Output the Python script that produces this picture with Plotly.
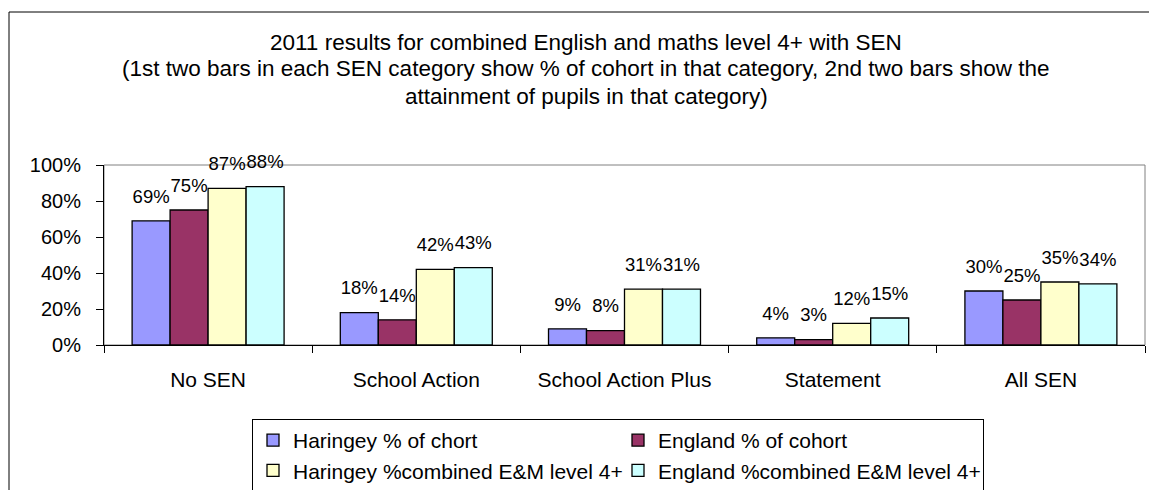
import plotly.graph_objects as go

categories = ["No SEN", "School Action", "School Action Plus", "Statement", "All SEN"]
series_names = [
    "Haringey % of chort",
    "England % of cohort",
    "Haringey %combined E&M level 4+",
    "England %combined E&M level 4+",
]
haringey_cohort = [69, 18, 9, 4, 30]
england_cohort = [75, 14, 8, 3, 25]
haringey_attain = [87, 42, 31, 12, 35]
england_attain = [88, 43, 31, 15, 34]
series_values = [haringey_cohort, england_cohort, haringey_attain, england_attain]
colors = ["#9999FF", "#993366", "#FFFFCC", "#CCFFFF"]

title_lines = [
    "2011 results for combined English and maths level 4+ with SEN",
    "(1st two bars in each SEN category show % of cohort in that category, 2nd two bars show the",
    "attainment of pupils in that category)",
]
y_ticks = [0, 20, 40, 60, 80, 100]

FONT = "Liberation Sans, Arial, sans-serif"
W, H = 1149, 490
L, R, T, B = 104, 4, 165, 145
PW = W - L - R
PH = H - T - B


def px_x(x):
    return (x - L) / PW


def px_y(y):
    return (H - B - y) / PH


fig = go.Figure()
for i, (name, vals, col) in enumerate(zip(series_names, series_values, colors)):
    fig.add_trace(go.Bar(
        x=categories, y=vals, name=name,
        marker=dict(color=col, line=dict(color="black", width=1.3)),
        offsetgroup=str(i), hoverinfo="skip",
    ))
for i, vals in enumerate(series_values):
    fig.add_trace(go.Scatter(
        x=categories, y=vals, mode="markers+text",
        text=[f"{v}%" for v in vals], textposition="top center",
        textfont=dict(family=FONT, size=18.5, color="black"),
        marker=dict(size=20, opacity=0),
        offsetgroup=str(i), showlegend=False, hoverinfo="skip",
        cliponaxis=False,
    ))

annotations = []
for ycen, line in zip([42, 69, 96], title_lines):
    annotations.append(dict(
        text=line, xref="paper", yref="paper", x=px_x(586), y=px_y(ycen),
        xanchor="center", yanchor="middle", showarrow=False,
        font=dict(family=FONT, size=22.5, color="black"),
    ))

shapes = [
    # outer chart border
    dict(type="rect", xref="paper", yref="paper", x0=px_x(9), x1=px_x(1200),
         y0=px_y(560), y1=px_y(12), line=dict(color="black", width=1), layer="below"),
    # plot area border (gray)
    dict(type="rect", xref="paper", yref="paper", x0=0, x1=1, y0=0, y1=1,
         line=dict(color="#808080", width=1), layer="below"),
]

fig.update_layout(
    width=W, height=H,
    margin=dict(l=L, r=R, t=T, b=B, autoexpand=False),
    paper_bgcolor="white", plot_bgcolor="white",
    barmode="group", bargap=0.27, bargroupgap=0,
    scattermode="group", scattergap=0.27,
    font=dict(family=FONT, size=20, color="black"),
    annotations=annotations, shapes=shapes,
    showlegend=True,
    legend=dict(
        orientation="h", x=px_x(252), y=px_y(419), xanchor="left", yanchor="top",
        bordercolor="black", borderwidth=1, bgcolor="white",
        font=dict(family=FONT, size=21, color="black"),
        entrywidth=320, entrywidthmode="pixels", traceorder="normal",
    ),
    xaxis=dict(
        type="category", showline=True, linecolor="black", linewidth=1,
        ticks="outside", tickson="boundaries", ticklen=7, tickcolor="black",
        showgrid=False, tickfont=dict(family=FONT, size=21, color="black"),
        ticklabelstandoff=16, fixedrange=True,
    ),
    yaxis=dict(
        range=[0, 100], tickvals=y_ticks, ticktext=[f"{v}%" for v in y_ticks],
        showline=True, linecolor="black", linewidth=1,
        ticks="outside", ticklen=7, tickcolor="black", showgrid=False,
        zeroline=False, tickfont=dict(family=FONT, size=20, color="black"),
        ticklabelstandoff=11, fixedrange=True,
    ),
)

fig.write_html(
    "out.html",
    config={"displayModeBar": False, "staticPlot": True},
    post_script="document.body.style.margin='0';document.body.style.padding='0';",
)
